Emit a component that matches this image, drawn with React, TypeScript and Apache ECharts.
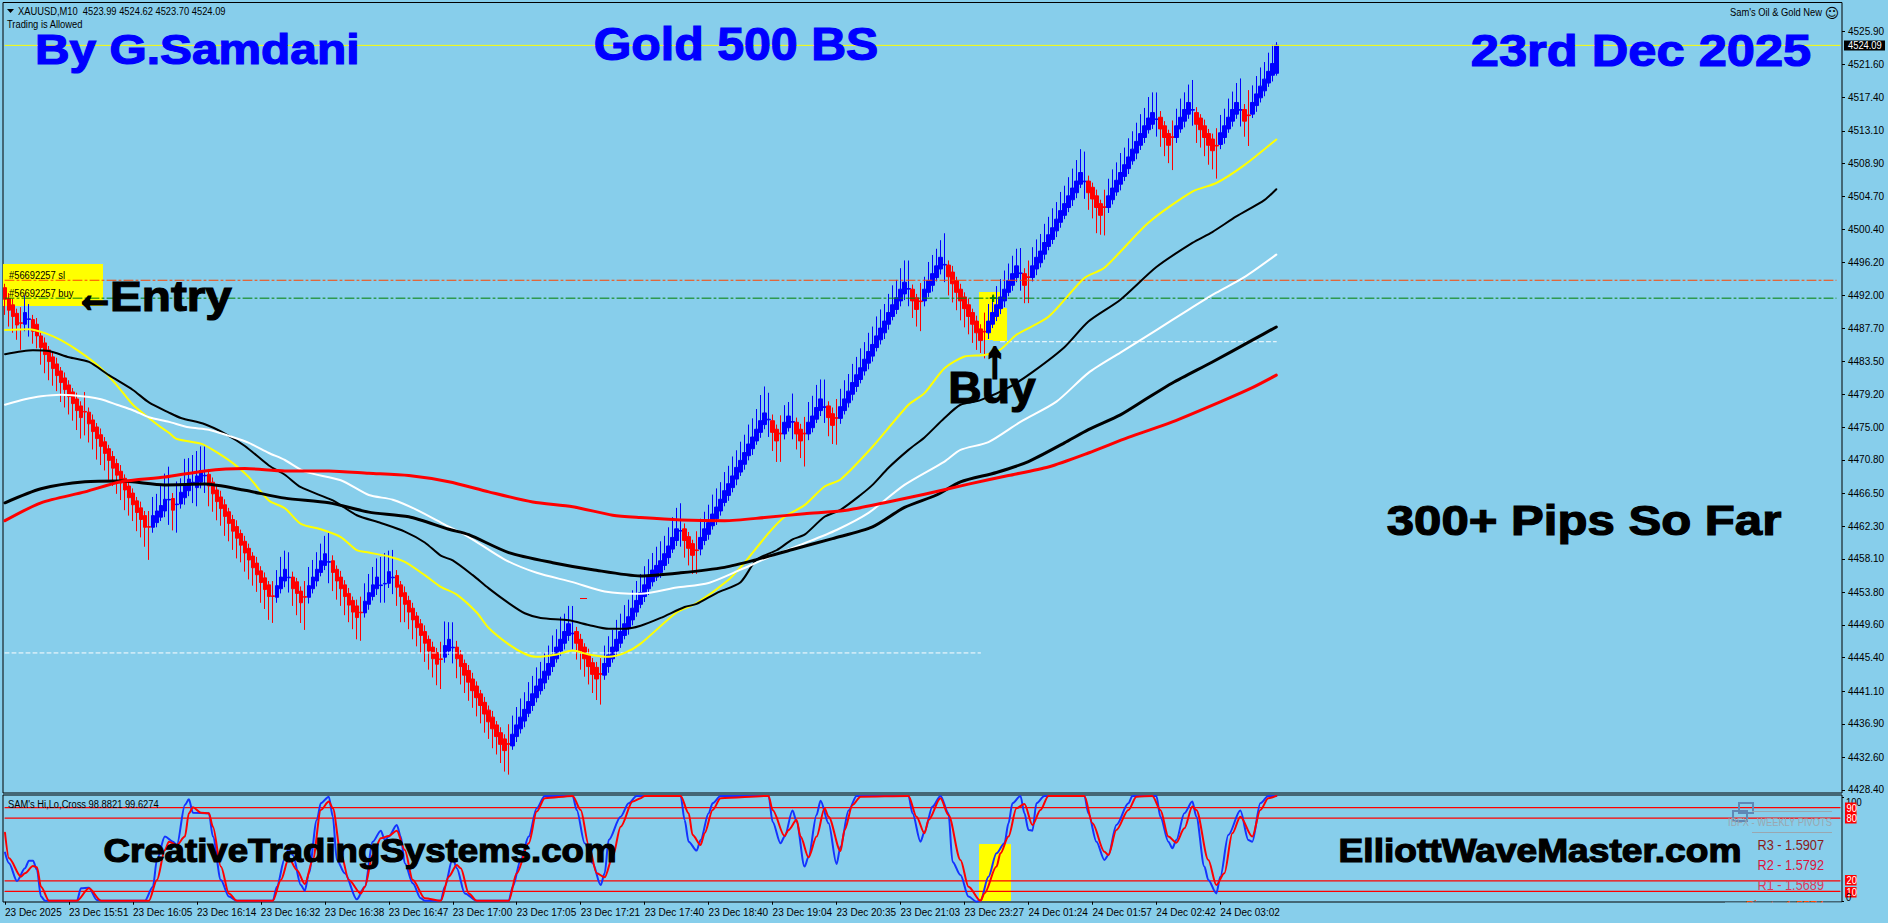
import React, { useEffect, useRef } from "react";
import * as echarts from "echarts";

// ---------- price pane: body mid price of every bar ----------
const barMids = [
4492.2,4490.8,4490.0,4488.9,4488.4,4489.0,4488.9,4488.1,4487.5,4486.0,
4485.1,4484.2,4483.3,4482.4,4481.5,4480.6,4479.7,4478.8,4477.9,4477.0,
4477.0,4476.2,4475.2,4474.3,4473.3,4472.4,4471.5,4470.5,4469.6,4468.6,
4467.7,4466.7,4465.8,4464.8,4463.9,4462.9,4462.2,4462.9,4463.5,4464.2,
4465.0,4465.7,4465.1,4465.1,4465.9,4466.7,4467.6,4467.9,4468.0,4468.7,
4468.8,4468.2,4467.2,4466.2,4465.3,4464.3,4463.4,4462.4,4461.5,4460.6,
4459.6,4458.7,4457.7,4456.8,4455.8,4454.9,4454.0,4453.3,4453.9,4455.0,
4456.0,4455.7,4455.0,4454.4,4453.2,4453.2,4453.9,4455.0,4456.0,4457.1,
4458.0,4457.7,4457.1,4456.0,4455.0,4454.0,4452.9,4452.0,4451.3,4451.2,
4451.9,4453.0,4454.0,4455.0,4454.7,4454.9,4455.7,4455.7,4455.2,4454.0,
4453.0,4452.0,4451.0,4450.0,4449.0,4448.0,4447.0,4446.0,4445.3,4445.2,
4446.2,4447.0,4446.7,4446.0,4445.0,4443.9,4443.0,4441.9,4441.0,4440.0,
4438.9,4437.9,4437.0,4436.0,4435.0,4434.2,4434.3,4434.8,4436.0,4437.0,
4438.0,4439.0,4440.0,4441.0,4441.9,4442.9,4443.9,4445.0,4446.0,4447.0,
4448.0,4449.0,4448.5,4448.0,4447.0,4446.0,4445.0,4444.0,4443.4,4443.3,
4443.9,4445.0,4446.0,4447.0,4448.0,4449.0,4449.9,4451.0,4452.0,4453.0,
4454.0,4455.0,4455.9,4456.5,4457.1,4458.0,4459.0,4460.1,4461.2,4461.7,
4461.2,4460.2,4459.3,4459.2,4460.1,4461.2,4462.0,4463.1,4464.0,4465.0,
4466.1,4467.0,4468.0,4469.1,4470.0,4471.0,4472.1,4473.0,4474.0,4475.1,
4476.1,4476.0,4475.1,4474.0,4474.2,4474.9,4475.7,4475.7,4474.9,4474.0,
4474.2,4474.9,4475.7,4476.8,4477.9,4477.6,4477.0,4476.0,4476.2,4476.9,
4477.9,4478.9,4480.0,4481.0,4481.9,4483.0,4484.0,4484.9,4486.0,4487.0,
4487.9,4489.0,4490.0,4490.9,4492.0,4492.9,4492.8,4492.0,4490.9,4491.2,
4492.0,4493.1,4494.0,4495.0,4496.1,4495.9,4495.1,4494.2,4493.1,4492.0,
4491.0,4490.0,4489.0,4487.9,4486.9,4487.3,4487.9,4489.0,4490.0,4491.0,
4492.0,4493.1,4494.0,4495.0,4494.8,4494.0,4494.3,4495.0,4496.1,4496.9,
4498.0,4499.0,4499.9,4501.0,4502.1,4503.0,4504.0,4505.0,4505.9,4507.0,
4506.6,4505.9,4505.1,4504.0,4503.0,4503.3,4504.0,4505.0,4506.0,4507.0,
4508.0,4509.0,4510.0,4511.0,4512.0,4513.0,4514.0,4514.7,4514.6,4514.1,
4513.0,4512.0,4512.3,4513.0,4514.1,4515.1,4516.0,4515.8,4514.7,4514.0,
4513.0,4512.0,4511.3,4511.2,4512.1,4513.0,4514.1,4515.1,4516.0,4515.8,
4515.1,4515.1,4516.0,4517.1,4518.1,4519.0,4520.0,4521.0,4522.3];

// bar kinds in runs: R red body, B blue body, r red doji, b blue doji
const barRuns: [string, number][] = [
["R",4],["r",1],["B",1],["b",1],["R",13],["r",1],["R",15],["r",1],["B",4],["b",1],["R",1],["b",1],["B",3],["b",1],["B",2],["b",1],
["R",16],["r",1],["B",3],["b",1],["R",3],["r",1],["B",5],["b",1],["R",7],["r",1],["B",4],["b",2],["B",1],["b",1],["R",11],["r",1],
["B",2],["b",1],["R",13],["r",1],["B",15],["b",1],["R",6],["r",1],["B",19],["b",1],["R",3],["r",1],["B",17],["b",1],["R",2],["r",1],
["B",2],["b",1],["R",2],["r",1],["B",4],["b",1],["R",2],["r",1],["B",17],["b",1],["R",2],["r",1],["B",5],["b",1],["R",9],["r",1],
["B",8],["b",1],["R",1],["r",1],["B",13],["b",1],["R",4],["r",1],["B",12],["b",1],["R",3],["r",1],["B",4],["b",1],["R",5],["r",1],
["B",5],["b",1],["R",1],["r",1],["B",7]];
const bodySizes: Record<string, number> = { R: -1.5, B: 1.5, r: -0.08, b: 0.08 };
const lastBarBody = 3.6;

// wick beyond the body, on the side of the bar's direction (blue: up, red: down)
const longWicks = [
2.0,2.1,2.1,1.9,3.4,2.2,1.9,1.6,1.6,2.2,2.4,2.4,2.2,2.0,2.5,2.3,2.3,2.2,2.5,2.7,
3.0,2.4,2.3,2.7,2.4,2.2,2.5,2.3,2.4,2.2,2.6,2.3,2.1,2.4,2.3,2.5,4.2,2.4,2.2,2.6,
3.3,4.2,2.6,2.9,1.8,3.5,2.7,3.5,3.2,3.1,3.7,2.6,2.3,2.4,2.2,2.5,2.3,2.4,2.6,2.2,
2.4,2.5,2.3,2.2,2.6,2.5,3.0,3.4,2.0,2.6,2.4,3.2,2.2,2.8,2.6,4.2,2.4,2.2,2.2,2.2,
2.3,3.7,2.4,2.4,2.2,2.4,2.2,2.2,2.8,3.6,2.3,2.4,2.3,2.4,3.6,3.9,2.7,3.5,2.4,3.3,
2.3,2.2,2.5,2.4,2.3,2.4,2.4,2.4,2.7,3.8,3.1,2.2,3.2,2.5,2.3,2.3,2.4,2.2,2.4,2.3,
2.4,2.2,2.5,2.3,2.4,2.7,3.9,2.4,2.3,2.4,2.2,2.5,2.3,2.4,2.2,2.4,2.3,2.5,2.3,2.9,
2.3,2.3,3.5,2.1,2.4,2.3,2.3,2.4,2.7,3.9,2.3,2.4,2.2,2.5,2.3,2.4,2.2,2.3,2.5,2.4,
2.4,2.3,2.2,2.4,2.5,2.3,2.4,2.6,2.7,3.5,2.2,2.2,2.4,3.0,2.4,2.2,2.3,2.5,2.4,2.2,
2.4,2.3,2.5,2.2,2.4,2.3,2.5,2.4,2.6,3.3,3.4,3.4,2.4,2.7,3.6,2.2,1.8,3.6,2.0,2.2,
4.2,2.6,2.6,2.9,2.5,3.5,2.4,2.4,3.4,2.3,2.4,2.2,2.4,2.3,2.5,2.2,2.4,2.3,2.5,2.4,
2.2,2.4,2.5,2.3,2.7,2.8,3.6,2.2,2.2,3.8,1.6,2.4,2.4,2.2,2.2,4.0,2.4,2.4,2.3,2.5,
2.4,2.3,2.4,2.2,1.6,3.4,2.2,2.2,2.4,2.3,2.4,2.2,2.3,2.2,3.2,2.3,3.3,2.4,2.3,2.2,
2.4,2.3,2.5,2.2,2.4,2.3,2.4,2.5,2.7,3.0,3.8,2.2,2.5,3.3,2.5,3.6,2.2,2.4,2.3,2.5,
2.2,2.4,2.3,2.4,2.5,2.3,2.7,2.6,3.4,2.3,2.4,2.3,4.2,2.2,2.4,2.2,2.3,3.8,2.4,2.3,
2.4,2.5,2.4,4.2,2.3,2.2,2.4,2.3,2.5,4.0,2.0,3.9,2.2,2.3,2.4,2.2,2.4,2.4,0.4];
// wick beyond the body, on the other side
const shortWicks = [
.5,.7,.8,.6,2.0,.9,2.2,.6,.8,.5,.7,.5,.6,.8,.5,.7,.6,.5,.8,.6,
2.5,.6,.7,.5,.8,.6,.5,.7,.6,.8,.5,.7,.6,.5,.8,.6,2.0,.7,.6,.5,
.8,3.2,.7,3.6,.6,.9,.7,2.6,2.4,.8,2.2,.7,.6,.5,.8,.7,.5,.6,.8,.5,
.7,.6,.5,.8,.6,.7,.5,1.9,.7,.6,.8,1.9,.7,.5,.6,2.0,.8,.6,.7,.5,
.6,2.7,.7,.5,.8,.6,.7,.5,.8,2.0,.6,.7,.5,.8,2.2,2.4,.6,2.1,.7,.5,
.8,.6,.7,.5,.6,.8,.5,.7,.6,2.2,.7,.5,2.0,.8,.6,.5,.7,.8,.6,.5,
.7,.6,.8,.5,.7,.6,2.5,.5,.7,.6,.8,.5,.7,.6,.5,.8,.6,.7,.5,.6,
.8,.7,2.0,.6,.7,.5,.8,.6,.7,2.0,.6,.8,.5,.7,.6,.5,.8,.7,.6,.5,
.7,.8,.6,.5,.7,.6,.8,.5,.7,2.0,.7,.6,.5,2.4,.8,.6,.7,.5,.8,.6,
.5,.7,.6,.8,.5,.7,.6,.8,.5,.7,.6,2.2,.8,.6,2.3,.7,.5,2.2,.6,.7,
2.1,.8,.6,.5,.7,2.0,.6,.8,2.4,.7,.5,.6,.8,.7,.5,.6,.8,.7,.5,.6,
.8,.7,.5,.6,.7,.8,2.2,.6,.5,2.3,.7,.6,.8,.5,.7,2.2,.6,.8,.5,.7,
.6,.8,.5,.7,.6,2.4,.8,.5,.6,.7,.8,.5,.7,.6,2.2,.7,2.1,.5,.8,.6,
.7,.5,.6,.8,.7,.5,.6,.8,.7,.5,2.2,.7,.6,.8,.5,2.2,.7,.6,.5,.8,
.6,.7,.5,.8,.6,.7,.5,.6,2.2,.8,.6,.5,2.1,.7,.5,.8,.6,2.0,.7,.5,
.8,.6,.7,2.2,.6,.8,.5,.7,.6,2.1,.7,3.2,.5,.8,.6,.7,.5,.8,.3];

// moving averages: [bar index, price]
const yellowMA = [[0,4487.5],[6,4487.6],[10,4487.1],[14,4486.2],[19,4484.6],[24,4482.6],[28,4480.4],[32,4477.9],[36,4476.2],[39,4475.0],[41,4474.3],[43,4473.5],[49,4472.9],[52,4472.1],[57,4470.4],[61,4468.6],[66,4465.6],[70,4464.6],[74,4462.6],[79,4461.9],[84,4460.9],[88,4459.2],[91,4458.9],[96,4458.4],[100,4457.7],[105,4456.0],[109,4454.5],[113,4453.5],[118,4451.2],[121,4449.2],[126,4447.1],[130,4445.9],[133,4445.5],[138,4445.8],[142,4446.3],[146,4445.8],[151,4445.5],[155,4446.0],[159,4447.2],[168,4451.2],[173,4452.4],[181,4455.4],[185,4457.6],[191,4461.4],[195,4463.5],[200,4465.0],[205,4467.4],[209,4468.3],[217,4472.5],[226,4477.9],[230,4479.4],[235,4482.6],[240,4484.1],[245,4484.3],[249,4485.0],[253,4486.9],[261,4489.2],[270,4494.2],[275,4495.5],[286,4501.3],[297,4505.3],[303,4506.4],[310,4508.7],[318,4512.0]];
const blackThinMA = [[0,4484.4],[7,4484.9],[11,4484.8],[16,4484.0],[21,4483.4],[26,4481.7],[32,4479.8],[36,4478.2],[41,4476.9],[44,4476.2],[50,4475.4],[55,4474.2],[60,4472.6],[66,4470.1],[70,4468.9],[74,4467.3],[82,4465.6],[88,4463.7],[94,4462.7],[100,4461.6],[105,4460.2],[109,4458.5],[112,4457.9],[117,4456.0],[121,4454.3],[126,4452.4],[130,4451.1],[134,4450.5],[141,4450.2],[146,4449.6],[151,4449.1],[155,4449.1],[159,4449.5],[164,4450.5],[170,4451.9],[173,4452.3],[178,4453.7],[184,4455.1],[188,4458.0],[193,4459.2],[197,4460.6],[200,4461.2],[205,4463.5],[209,4464.4],[214,4466.3],[217,4467.6],[221,4469.8],[226,4472.1],[230,4473.7],[235,4476.2],[239,4477.9],[244,4478.5],[251,4480.1],[257,4482.1],[265,4485.3],[271,4488.6],[279,4491.4],[288,4495.6],[297,4498.7],[302,4500.1],[308,4502.1],[315,4504.2],[318,4505.6]];
const whiteMA = [[0,4477.9],[5,4478.6],[9,4479.0],[14,4479.2],[21,4478.9],[24,4478.6],[28,4477.9],[32,4477.2],[36,4476.3],[41,4475.7],[46,4475.0],[51,4474.7],[56,4473.9],[61,4473.0],[66,4471.7],[70,4470.8],[75,4469.3],[84,4468.2],[91,4466.3],[97,4465.7],[103,4464.4],[110,4462.5],[116,4460.9],[125,4458.0],[133,4456.3],[142,4455.1],[150,4453.9],[159,4453.6],[168,4454.4],[176,4455.0],[184,4456.7],[191,4458.3],[200,4460.1],[208,4461.8],[216,4464.0],[225,4467.6],[235,4470.6],[239,4472.1],[246,4473.1],[254,4475.7],[263,4478.3],[271,4482.0],[279,4484.6],[288,4487.5],[296,4490.1],[303,4492.3],[310,4494.3],[318,4497.2]];
const blackThickMA = [[0,4465.3],[9,4467.1],[20,4468.0],[29,4468.1],[40,4467.6],[50,4467.7],[60,4466.9],[70,4465.9],[81,4465.3],[91,4464.1],[101,4463.5],[111,4461.9],[116,4461.2],[126,4458.9],[137,4457.6],[147,4456.7],[159,4455.9],[169,4456.3],[180,4457.0],[188,4458.0],[197,4459.3],[207,4460.7],[217,4462.2],[225,4464.7],[233,4466.3],[239,4468.0],[248,4469.2],[256,4470.6],[265,4473.0],[271,4474.7],[279,4476.6],[285,4478.5],[292,4480.7],[302,4483.4],[312,4486.2],[318,4487.9]];
const redMA = [[0,4463.0],[9,4465.3],[20,4466.7],[29,4468.0],[40,4468.6],[50,4469.4],[60,4469.7],[70,4469.4],[81,4469.4],[91,4469.1],[101,4468.8],[111,4468.0],[121,4466.7],[132,4465.4],[142,4464.8],[152,4463.7],[159,4463.4],[169,4463.1],[180,4463.0],[190,4463.4],[200,4463.9],[210,4464.3],[220,4465.3],[230,4466.4],[241,4467.7],[251,4468.8],[261,4469.9],[271,4471.7],[281,4473.7],[292,4475.7],[305,4478.5],[312,4480.1],[318,4481.7]];

// horizontal price levels
const currentPrice = 4524.09;
const stopLevel = 4493.9;
const buyLevel = 4491.6;
const lowDashLevel = 4446.0;
const highDashLevel = 4486.0;

// oscillator: [bar index, value]
const oscBlue = [[0,47],[1,36.8],[3,19.8],[5,32],[6,39.3],[7,39.3],[8,30.4],[9,4.9],[10,1],[18,1],[19,12.8],[21,13.5],[23,1.7],[24,1],[35,1],[37,14.4],[38,40],[40,62.3],[42,57.5],[43,54.3],[45,92.6],[46,98],[47,85.2],[51,84.6],[52,62.3],[54,20.8],[56,4.9],[58,1],[67,1],[68,14.4],[70,41.5],[71,51.1],[72,44.7],[74,16],[75,10.6],[76,27.2],[78,78.2],[79,94.2],[81,100.5],[82,81.4],[83,40],[85,27.2],[88,2.3],[90,14.4],[92,57.5],[94,68],[95,59.1],[96,62.3],[98,73.4],[99,62.3],[100,36.8],[102,17.6],[104,3.3],[105,1],[109,1],[110,14.4],[112,41.5],[113,32],[115,8],[118,1],[126,1],[127,14.4],[129,40],[131,62.3],[133,89.4],[135,101.2],[142,101.2],[143,87.8],[145,55.9],[147,36.8],[149,16],[150,27.2],[151,59.1],[154,81.4],[156,94.2],[158,101.2],[169,101.2],[170,78.2],[171,57.5],[173,48.9],[174,59.1],[176,84.6],[177,94.2],[179,101.2],[191,101.2],[192,76.6],[194,55.9],[195,62.3],[197,87.2],[198,76.6],[200,33.6],[201,43.1],[203,83],[204,96.7],[206,75],[208,36.1],[209,52.7],[211,87.2],[213,101.2],[226,101.2],[227,84.6],[229,57.5],[230,67],[232,91],[234,101.2],[236,84.6],[237,38.3],[239,25.6],[241,4.9],[243,0.1],[244,1],[246,24],[248,46.3],[250,55.9],[251,75],[252,94.2],[254,101.2],[255,84.6],[256,68.7],[257,68],[258,94.2],[260,101.2],[270,101.2],[271,84.6],[273,57.5],[275,40],[276,44.7],[278,73.4],[281,94.2],[282,101.2],[288,101.2],[289,81.4],[291,57.5],[292,51.1],[293,59.1],[295,84.6],[297,95.8],[298,81.4],[300,33.6],[301,20.8],[303,8],[304,24],[306,63.9],[309,87.2],[311,59.1],[312,57.5],[314,94.2],[316,101.2],[318,101.2]];
const oscRed = [[0,66],[1,41.5],[4,24],[5,27.2],[7,34.2],[8,32.9],[9,14.4],[11,1],[18,1],[21,12.8],[24,1],[36,1],[38,20.8],[40,49.5],[41,57.5],[43,54.3],[45,62.3],[46,84.6],[47,90.3],[49,85.2],[51,84.6],[52,71.8],[54,33.6],[56,8],[58,1],[67,1],[69,20.8],[71,41.5],[73,30.4],[75,17],[77,40],[79,87.8],[81,95.8],[82,89.4],[84,46.3],[86,20.8],[89,8],[90,14.4],[92,44.7],[94,60.7],[96,62.9],[98,68],[100,49.5],[102,20.8],[105,3.3],[109,1],[111,24],[113,35.2],[114,32],[116,8],[118,1],[126,1],[128,27.2],[131,55.9],[133,86.2],[135,99],[142,101.2],[144,87.8],[146,54.3],[148,27.2],[150,23.4],[152,43.1],[154,71.8],[157,95.8],[159,99],[160,101.2],[169,101.2],[171,84.6],[172,63.9],[174,54.3],[175,65.5],[177,87.8],[179,99],[191,101.2],[192,87.8],[195,62.9],[196,68.7],[198,78.2],[199,62.3],[201,42.5],[203,62.3],[205,89.4],[206,81.4],[209,48.5],[210,68.7],[212,92.6],[214,100.5],[226,101.2],[228,81.4],[230,65.5],[231,78.2],[234,99],[236,83],[239,40],[241,14.4],[244,1],[245,8],[248,33.6],[249,46.3],[251,62.3],[253,89.4],[255,93.5],[257,73.4],[259,87.8],[261,101.2],[270,101.2],[272,75],[275,47.9],[276,44.7],[278,68.7],[281,87.8],[283,100.5],[287,101.2],[289,87.8],[291,62.3],[293,56.5],[295,70.2],[297,91],[298,87.8],[301,40],[303,16],[305,27.2],[307,65.5],[309,81.4],[312,62.3],[314,87.8],[316,99],[318,101.2]];
const oscLevels = [90, 80, 20, 10];

// axis labels
const priceTicks = [4525.9,4521.6,4517.4,4513.1,4508.9,4504.7,4500.4,4496.2,4492.0,4487.7,4483.5,4479.2,4475.0,4470.8,4466.5,4462.3,4458.1,4453.8,4449.6,4445.4,4441.1,4436.9,4432.6,4428.4];
const timeLabels = ["23 Dec 2025","23 Dec 15:51","23 Dec 16:05","23 Dec 16:14","23 Dec 16:32","23 Dec 16:38","23 Dec 16:47","23 Dec 17:00","23 Dec 17:05","23 Dec 17:21","23 Dec 17:40","23 Dec 18:40","23 Dec 19:04","23 Dec 20:35","23 Dec 21:03","23 Dec 23:27","24 Dec 01:24","24 Dec 01:57","24 Dec 02:42","24 Dec 03:02"];
const LABEL_EVERY = 16;
const SLOT_COUNT = 460;

const SKY = "#87CEEB";
const UI_FONT = "'Liberation Sans Narrow','Liberation Sans',sans-serif";
const BOLD_FONT = "'Liberation Sans',Arial,sans-serif";
const SMALL_SCALE = 0.85;

function App() {
  const ref = useRef<HTMLDivElement>(null);
  useEffect(() => {
    document.body.style.margin = "0";
    document.body.style.overflow = "hidden";
    const chart = echarts.init(ref.current!, null, { renderer: "svg" });

    const kinds: string[] = [];
    barRuns.forEach(([k, n]) => { for (let j = 0; j < n; j++) kinds.push(k); });
    const candles = barMids.map((mid, i) => {
      const size = i === barMids.length - 1 ? lastBarBody : bodySizes[kinds[i]];
      const open = mid - size / 2;
      const close = mid + size / 2;
      const top = Math.max(open, close);
      const bottom = Math.min(open, close);
      const up = size > 0;
      return [open, close, bottom - (up ? shortWicks[i] : longWicks[i]), top + (up ? longWicks[i] : shortWicks[i])];
    });
    const categories = Array.from({ length: SLOT_COUNT }, (_, i) =>
      i % LABEL_EVERY === 0 ? timeLabels[i / LABEL_EVERY] ?? "" : "");
    const isLabelled = (i: number) => i % LABEL_EVERY === 0 && i / LABEL_EVERY < timeLabels.length;

    const line = (data: number[][], color: string, width: number, extra: any = {}, smooth: number | boolean = false) => ({
      type: "line", data, showSymbol: false, symbol: "none", silent: true, animation: false, smooth,
      lineStyle: { color, width, cap: "round", join: "round", ...extra }, xAxisIndex: 0, yAxisIndex: 0,
    });
    const osc = (data: number[][], color: string, width: number, smooth: number | boolean = false) => ({
      ...line(data, color, width, {}, smooth), xAxisIndex: 1, yAxisIndex: 1, smoothMonotone: "x",
    });

    const txt = (x: number, y: number, text: string, fill: string, fontSize: number, o: any = {}) => ({
      type: "text", x, y, z: o.z ?? 100, scaleX: o.scaleX ?? (o.bold ? 1 : SMALL_SCALE),
      style: {
        text, fill, fontSize, fontWeight: o.bold ? "bold" : "normal",
        fontFamily: o.font ?? (o.bold ? BOLD_FONT : UI_FONT),
        textAlign: o.align ?? "left", textVerticalAlign: "middle", textBaseline: "middle",
        ...(o.stroke ? { stroke: fill, lineWidth: o.stroke } : {}),
      },
    });
    const box = (x: number, y: number, w: number, h: number, fill: string, z = 1, stroke?: string) => ({
      type: "rect", z, shape: { x, y, width: w, height: h },
      style: stroke ? { fill: "none", stroke, lineWidth: 2 } : { fill },
    });
    const heavy = (x: number, y: number, text: string, fill: string, fontSize: number, scaleX: number, align = "center", stroke = 1.2) =>
      txt(x, y, text, fill, fontSize, { bold: true, align, scaleX, stroke });

    chart.setOption({
      animation: false,
      backgroundColor: SKY,
      grid: [
        { left: 3, right: 46, top: 2.5, height: 790.5, show: true, borderColor: "#000", borderWidth: 1, backgroundColor: "transparent" },
        { left: 3, right: 46, top: 795, height: 107, show: true, borderColor: "#000", borderWidth: 1, backgroundColor: "transparent" },
      ],
      xAxis: [
        { type: "category", data: categories, gridIndex: 0, axisLine: { show: false }, axisTick: { show: false }, axisLabel: { show: false }, splitLine: { show: false } },
        {
          type: "category", data: categories, gridIndex: 1,
          axisLine: { show: false },
          axisTick: { show: true, alignWithLabel: true, interval: (i: number) => isLabelled(i), length: 3, lineStyle: { color: "#000" } },
          axisLabel: { show: true, interval: (i: number) => isLabelled(i), align: "left", margin: 5, color: "#000", fontSize: 10, fontFamily: UI_FONT, hideOverlap: false, showMinLabel: true, showMaxLabel: true },
          splitLine: { show: false },
        },
      ],
      yAxis: [
        {
          type: "value", gridIndex: 0, position: "right", min: 4428.0, max: 4529.6,
          axisLine: { show: false },
          axisTick: { show: true, length: 3, customValues: priceTicks, lineStyle: { color: "#000" } },
          axisLabel: { show: true, margin: 6, customValues: priceTicks, color: "#000", fontSize: 10, fontFamily: UI_FONT, formatter: (v: number) => v.toFixed(2), hideOverlap: false },
          splitLine: { show: false },
        },
        {
          type: "value", gridIndex: 1, position: "right", min: -0.25, max: 102.1,
          axisLine: { show: false },
          axisTick: { show: true, length: 2, customValues: [100, 0], lineStyle: { color: "#000" } },
          axisLabel: { show: false },
          splitLine: { show: false },
        },
      ],
      series: [
        line([[0, stopLevel], [458, stopLevel]], "#ff4500", 1, { type: [9, 3, 2, 3] }),
        line([[0, buyLevel], [458, buyLevel]], "#008000", 1, { type: [9, 3, 2, 3] }),
        line([[0, currentPrice], [459, currentPrice]], "#ffff00", 1),
        {
          type: "candlestick", data: candles, xAxisIndex: 0, yAxisIndex: 0, barWidth: 4, silent: true,
          itemStyle: { color: "#0000ff", color0: "#ff0000", borderColor: "#0000ff", borderColor0: "#ff0000", borderWidth: 1 },
        },
        line([[0, lowDashLevel], [244, lowDashLevel]], "#ffffff", 1, { type: [4, 3] }),
        line([[249, highDashLevel], [318, highDashLevel]], "#ffffff", 1, { type: [4, 3] }),
        line(yellowMA, "#ffff00", 2, {}, 0.25),
        line(blackThinMA, "#000000", 2, {}, 0.25),
        line(whiteMA, "#ffffff", 2, {}, 0.25),
        line(blackThickMA, "#000000", 3, {}, 0.25),
        line(redMA, "#ff0000", 3, {}, 0.25),
        ...oscLevels.map((v) => osc([[0, v], [459, v]], "#ff0000", 1.2)),
        osc(oscBlue, "#1433ff", 2, 0.3),
        osc(oscRed, "#ff0000", 2, 0.3),
      ],
      graphic: { elements: [
        box(3, 264, 100, 42, "#ffff00"),
        box(979, 292, 21, 48, "#ffff00"),
        box(993, 308, 14, 33, "#ffff00"),
        box(979, 844, 32, 57, "#ffff00"),
        box(580, 598, 7, 1, "#ff0000", 100),
        txt(993, 298, "+", "#008000", 14, { bold: true, align: "center" }),

        heavy(35, 50, "By G.Samdani", "#0000ff", 42, 1.14, "left"),
        heavy(736, 44, "Gold 500 BS", "#0000ff", 46, 1.05),
        heavy(1641, 50, "23rd Dec 2025", "#0000ff", 45, 1.125),
        heavy(75, 294, "←", "#000000", 50, 0.8, "left", 3),
        heavy(110, 297, "Entry", "#000000", 42, 1.135, "left"),
        heavy(995, 359, "↑", "#000000", 50, 0.8, "center", 4),
        heavy(992, 388, "Buy", "#000000", 44, 1.05),
        heavy(1584, 521, "300+ Pips So Far", "#000000", 42, 1.17),
        heavy(360, 850, "CreativeTradingSystems.com", "#000000", 33, 1.11),
        heavy(1540, 850, "ElliottWaveMaster.com", "#000000", 33, 1.125),

        { type: "polygon", z: 100, shape: { points: [[7, 9], [14, 9], [10.5, 13]] }, style: { fill: "#000" } },
        txt(18, 11, "XAUUSD,M10  4523.99 4524.62 4523.70 4524.09", "#000", 11),
        txt(7, 24, "Trading is Allowed", "#000", 11),
        txt(1730, 12, "Sam's Oil & Gold New", "#000", 11),
        txt(1832, 13, "☺", "#000", 14, { font: "'DejaVu Sans'", align: "center", scaleX: 1 }),
        txt(9, 275, "#56692257 sl", "#000", 11),
        txt(9, 293, "#56692257 buy", "#000", 11),
        txt(8, 804, "SAM's Hi,Lo,Cross 98.8821 99.6274", "#000", 11),

        box(1844, 40.5, 41, 10, "#000", 100),
        txt(1848, 45.5, "4524.09", "#fff", 11),

        txt(1846, 802, "100", "#000", 11),
        box(1845, 802.5, 11.5, 11, "#f00", 100),
        txt(1846.5, 808, "90", "#fff", 11, { z: 101 }),
        box(1845, 813, 11.5, 10.5, "#f00", 100),
        txt(1846.5, 818, "80", "#fff", 11, { z: 101 }),
        box(1845, 875, 11.5, 10.5, "#f00", 100),
        txt(1846.5, 880.5, "20", "#fff", 11, { z: 101 }),
        box(1845, 887, 11.5, 10.5, "#f00", 100),
        txt(1846.5, 892, "10", "#fff", 11, { z: 101 }),
        txt(1846, 897, "0", "#000", 11, { z: 102 }),

        box(1739, 803, 14, 10, "none", 100, "#5f87b5"),
        box(1733, 811, 14, 10, "none", 100, "#5f87b5"),
        box(1752, 811, 80, 1, "#9aa7b0", 100),
        box(1752, 832, 80, 1, "#9aa7b0", 100),
        txt(1832, 822, "IBFX - WEEKLY PIVOTS", "#9aa7b0", 11, { align: "right" }),
        txt(1824, 845, "R3 - 1.5907", "#8b1a1a", 15, { align: "right" }),
        txt(1824, 865, "R2 - 1.5792", "#dc143c", 15, { align: "right" }),
        txt(1824, 885, "R1 - 1.5689", "#dc3c5c", 15, { align: "right" }),
        txt(1824, 906, "Pivot - 1.5574", "#ff4500", 15, { align: "right" }),
        box(1725, 902.5, 117, 20.5, SKY, 101),
      ] },
    });
    return () => chart.dispose();
  }, []);
  return <div ref={ref} style={{ position: "absolute", left: 0, top: 0, width: 1888, height: 923 }} />;
}

export default App;
